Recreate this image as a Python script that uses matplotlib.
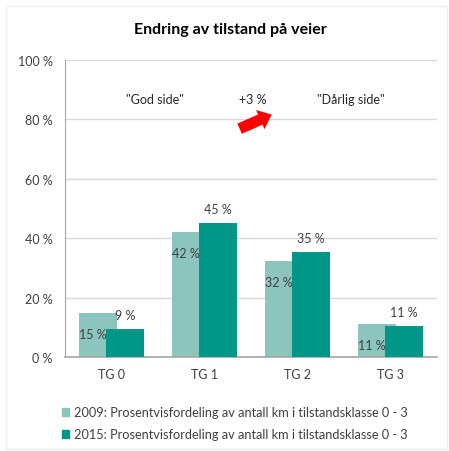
import matplotlib
matplotlib.use("Agg")
import matplotlib.pyplot as plt
from matplotlib.patches import Patch, Rectangle

plt.rcParams['font.family'] = ['Lato', 'DejaVu Sans']

# data
categories = ['TG 0', 'TG 1', 'TG 2', 'TG 3']
share_2009 = [14.8, 42.0, 32.3, 11.1]
share_2015 = [9.4, 45.1, 35.4, 10.4]
labels_2009 = ['15 %', '42 %', '32 %', '11 %']
labels_2015 = ['9 %', '45 %', '35 %', '11 %']
series_names = ['2009: Prosentvisfordeling av antall km i tilstandsklasse 0 - 3',
                '2015: Prosentvisfordeling av antall km i tilstandsklasse 0 - 3']
yticks = [0, 20, 40, 60, 80, 100]

c2009 = '#8CC4BE'
c2015 = '#009688'
txt = '#404040'

fig = plt.figure(figsize=(4.49, 4.52), dpi=100)
fig.patches.append(Rectangle((6 / 449, 2 / 452), 441 / 449, 443 / 452, transform=fig.transFigure,
                             fill=False, edgecolor='#EFEFEF', linewidth=1))
ax = fig.add_axes([65 / 449, 94 / 452, 372 / 449, 297 / 452])

x = list(range(len(categories)))
w = 0.41
off = 0.143
ax.bar([i - off for i in x], share_2009, width=w, color=c2009, zorder=2)
ax.bar([i + off for i in x], share_2015, width=w, color=c2015, zorder=3)

for i in x:
    ax.annotate(labels_2009[i], (i - off, share_2009[i]), xytext=(-4, -15), textcoords='offset points',
                ha='center', va='center', fontsize=9, color=txt, zorder=5)
    ax.annotate(labels_2015[i], (i + off, share_2015[i]), xytext=(0, 10), textcoords='offset points',
                ha='center', va='center', fontsize=9, color=txt, zorder=5)

ax.set_xlim(-0.5, 3.5)
ax.set_ylim(0, 100)
ax.set_yticks(yticks)
ax.set_yticklabels([f'{t} %' for t in yticks])
ax.set_xticks(x)
ax.set_xticklabels(categories)
ax.tick_params(length=0, labelsize=9, colors=txt)
ax.tick_params(axis='y', pad=9)
ax.tick_params(axis='x', pad=8)
ax.grid(axis='y', color='#D9D9D9', linewidth=1, zorder=0)
for s in ['top', 'right']:
    ax.spines[s].set_visible(False)
ax.spines['left'].set_color('#A6A6A6')
ax.spines['bottom'].set_color('#A6A6A6')
ax.spines['bottom'].set_linewidth(1.2)

# annotations
ax.text(0.47, 87, '"God side"', ha='center', va='center', fontsize=9, color='#262626')
ax.text(1.52, 87, '+3 %', ha='center', va='center', fontsize=9, color='#262626')
ax.text(2.57, 87, '"Dårlig side"', ha='center', va='center', fontsize=9, color='#262626')
ax.annotate('', xy=(1.75, 82.0), xytext=(1.35, 76.5),
            arrowprops=dict(arrowstyle='simple,head_width=1.5,head_length=0.9,tail_width=0.8',
                            color='#FF0000', lw=0), zorder=6)

fig.text(230 / 449, 1 - 30 / 452, 'Endring av tilstand på veier', ha='center', va='center',
         fontsize=11.5, fontweight='bold', color='#000000')

handles = [Patch(color=c2009), Patch(color=c2015)]
fig.legend(handles, series_names, loc='upper left', bbox_to_anchor=(50 / 449, 1 - 396 / 452),
           frameon=False, fontsize=9.2, handlelength=0.6, handleheight=0.6, handletextpad=0.35,
           labelspacing=0.75, labelcolor=txt)

fig.savefig('out.png', dpi=100, facecolor='white')
